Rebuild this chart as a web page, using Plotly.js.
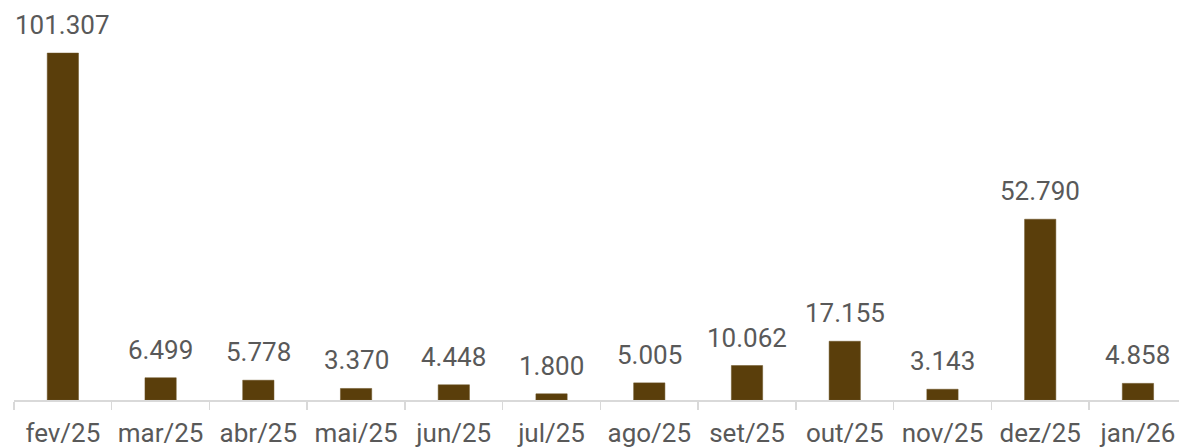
<!DOCTYPE html>
<html>
<head>
<meta charset="utf-8">
<script src="https://cdn.plot.ly/plotly-3.0.1.min.js"></script>
<style>html,body{margin:0;padding:0;background:#fff}#chart{width:1179px;height:447px}</style>
</head>
<body>
<div id="chart"></div>
<script>
const categories = ["fev/25","mar/25","abr/25","mai/25","jun/25","jul/25","ago/25","set/25","out/25","nov/25","dez/25","jan/26"];
const values = [101307, 6499, 5778, 3370, 4448, 1800, 5005, 10062, 17155, 3143, 52790, 4858];

const labels = values.map(v => String(v).replace(/\B(?=(\d{3})+(?!\d))/g, "."));

const trace = {
  type: "bar",
  x: categories,
  y: values,
  marker: {color: "#5a3e0b", line: {color: "#6b5224", width: 0.5}},
  width: 0.32,
  hoverinfo: "skip"
};

const annotations = categories.map((c, i) => ({
  x: c, y: values[i], xref: "x", yref: "y",
  text: labels[i], showarrow: false,
  yanchor: "bottom", yshift: 11,
  font: {family: "Roboto", size: 26, color: "#595959"}
}));

const layout = {
  width: 1179, height: 447,
  margin: {l: 14, r: 0, t: 0, b: 47},
  paper_bgcolor: "#ffffff", plot_bgcolor: "#ffffff",
  showlegend: false,
  separators: ",.",
  xaxis: {
    type: "category",
    range: [-0.5, 11.42],
    showline: true, linecolor: "#d9d9d9", linewidth: 1.5,
    ticks: "outside", tickson: "boundaries", ticklen: 8, tickcolor: "#d9d9d9", tickwidth: 1.5,
    ticklabelstandoff: 9,
    tickfont: {family: "Roboto", size: 26, color: "#595959"},
    showgrid: false, zeroline: false
  },
  yaxis: {
    range: [0, 116800],
    visible: false, showgrid: false, zeroline: false
  },
  annotations: annotations
};

Plotly.newPlot("chart", [trace], layout, {staticPlot: true, displayModeBar: false});
</script>
</body>
</html>
